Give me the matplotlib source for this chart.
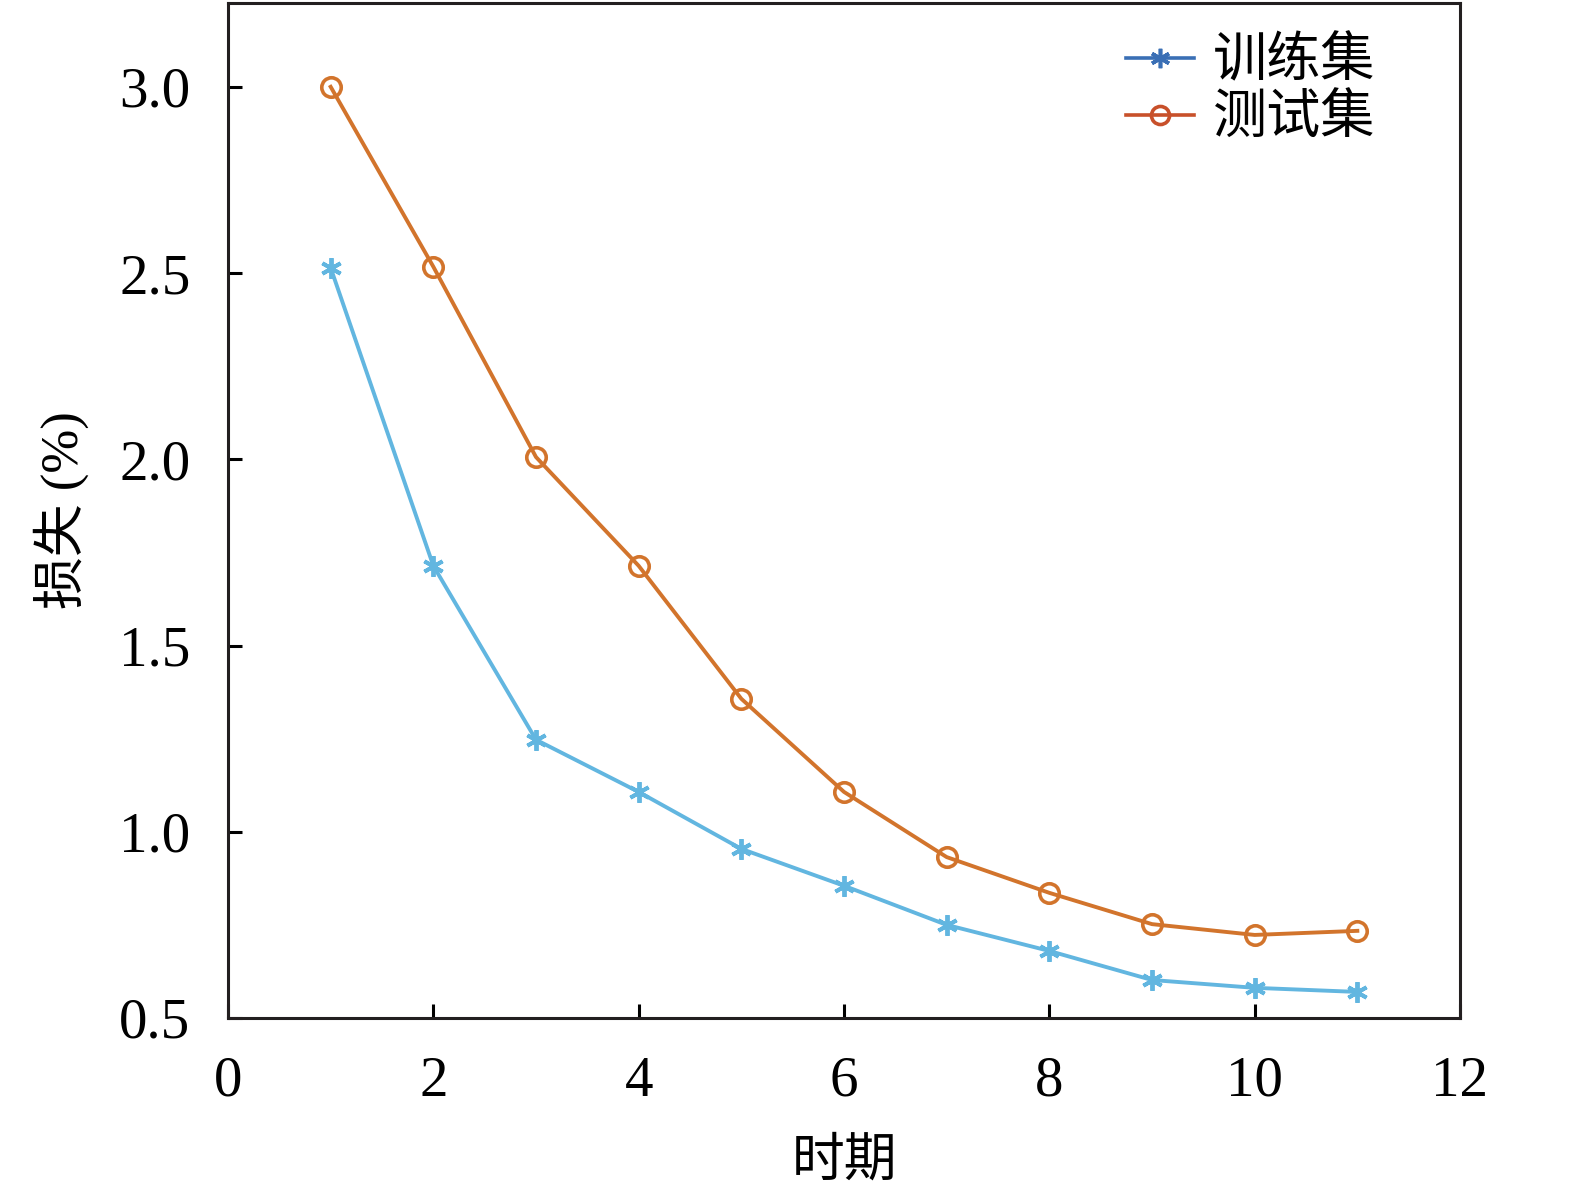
import matplotlib
matplotlib.use("Agg")
import matplotlib.pyplot as plt
from matplotlib.lines import Line2D

plt.rcParams['font.family'] = ['Liberation Serif', 'Noto Sans CJK SC']
plt.rcParams['mathtext.fontset'] = 'stix'

epochs = [1, 2, 3, 4, 5, 6, 7, 8, 9, 10, 11]
train_loss = [2.514, 1.714, 1.247, 1.107, 0.954, 0.855, 0.750, 0.680, 0.602, 0.581, 0.570]
test_loss = [3.000, 2.517, 2.006, 1.714, 1.357, 1.107, 0.932, 0.836, 0.752, 0.723, 0.734]
x_ticks = [0, 2, 4, 6, 8, 10, 12]
y_ticks = [0.5, 1.0, 1.5, 2.0, 2.5, 3.0]

fig = plt.figure(figsize=(15.75, 11.85), dpi=100)
ax = fig.add_axes([228 / 1575, 1 - 1018 / 1185, 1232 / 1575, 1015 / 1185])

asterisk = (6, 2, 0)
ax.plot(epochs, train_loss, color="#62b6e0", lw=2.8, marker=asterisk,
        ms=15, mew=2.8)
ax.plot(epochs, test_loss, color="#d2742c", lw=2.8, marker="o", ms=14,
        mfc="none", mew=2.6)

ax.set_xlim(0, 12)
ax.set_ylim(0.5, 3.225)
ax.set_xticks(x_ticks)
ax.set_yticks(y_ticks)
ax.set_yticklabels([f"{v:.1f}" for v in y_ticks])
ax.tick_params(direction="in", length=10, width=2.2, labelsize=41,
               top=False, right=False)
ax.tick_params(axis="x", pad=27)
ax.tick_params(axis="y", pad=27)
for s in ax.spines.values():
    s.set_linewidth(2.2)
    s.set_color("#231f20")

ax.set_xlabel("时期", fontsize=38, labelpad=22)
ax.set_ylabel("损失 (%)", fontsize=38, labelpad=22)

# legend colours differ from the plotted lines in the original
handles = [
    Line2D([], [], color="#3a6fb5", lw=2.6, marker=asterisk, ms=14, mew=2.6),
    Line2D([], [], color="#c8502a", lw=2.6, marker="o", ms=13, mfc="none", mew=2.6),
]
ax.legend(handles, ["训练集", "测试集"], loc="upper right", frameon=False,
          fontsize=39, handlelength=1.25, handletextpad=0.35, labelspacing=0.12,
          borderaxespad=0.25, bbox_to_anchor=(0.96, 1.0))

fig.savefig("out.png", dpi=100)
